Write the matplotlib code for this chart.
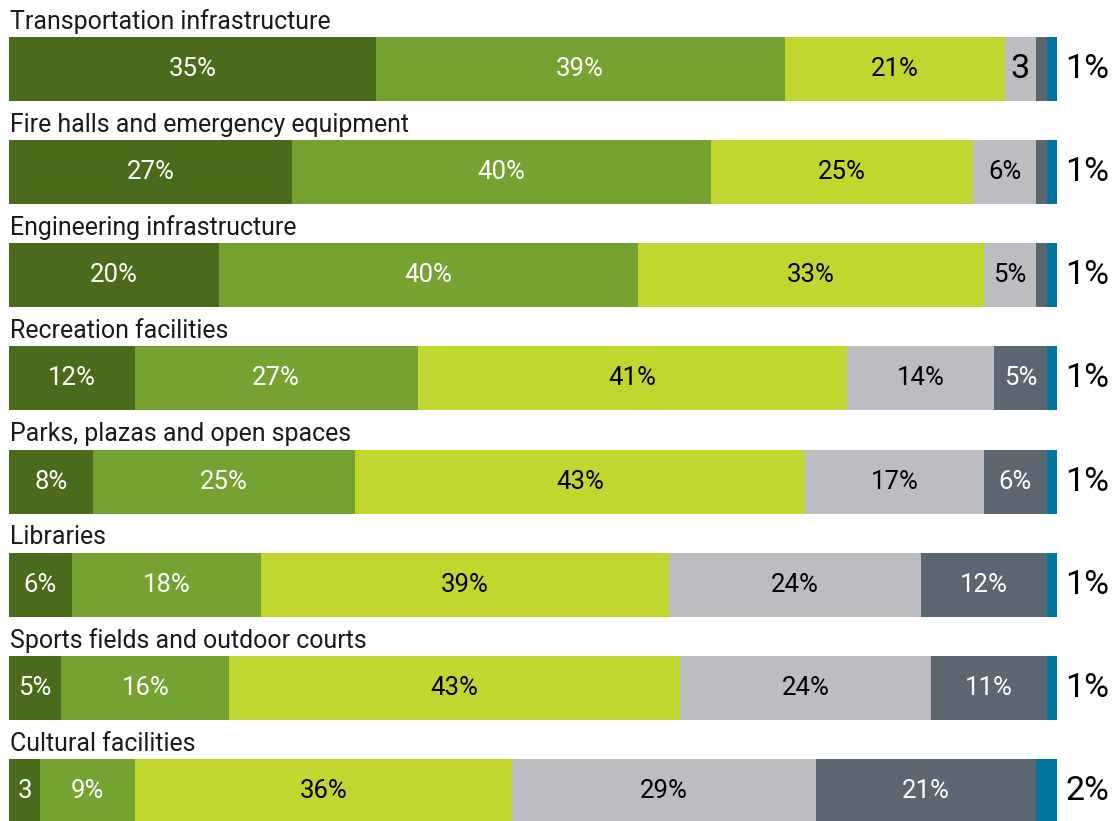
import matplotlib
matplotlib.use("Agg")
import matplotlib.pyplot as plt
import numpy as np

plt.rcParams['font.family'] = ['Roboto', 'DejaVu Sans']

categories = [
    "Transportation infrastructure",
    "Fire halls and emergency equipment",
    "Engineering infrastructure",
    "Recreation facilities",
    "Parks, plazas and open spaces",
    "Libraries",
    "Sports fields and outdoor courts",
    "Cultural facilities",
]
very_good = [35, 27, 20, 12, 8, 6, 5, 3]
good = [39, 40, 40, 27, 25, 18, 16, 9]
fair = [21, 25, 33, 41, 43, 39, 43, 36]
poor = [3, 6, 5, 14, 17, 24, 24, 29]
very_poor = [1, 1, 1, 5, 6, 12, 11, 21]
unknown = [1, 1, 1, 1, 1, 1, 1, 2]

series = [very_good, good, fair, poor, very_poor, unknown]
colors = ["#4a6b1c", "#76a232", "#c1d62e", "#bcbdc0", "#5a6670", "#00759e"]
text_colors = ["white", "white", "black", "black", "white", None]

fig = plt.figure(figsize=(11.17, 8.21), dpi=100)
ax = fig.add_axes([9 / 1117, 0, 1048 / 1117, 1])
ax.set_xlim(0, 100)
ax.set_ylim(7.29, -0.669)
ax.axis("off")

bar_h = 0.62
y = np.arange(len(categories))
left = np.zeros(len(categories))
for si, (vals, col) in enumerate(zip(series, colors)):
    vals = np.array(vals, dtype=float)
    ax.barh(y, vals, left=left, height=bar_h, color=col, edgecolor="none")
    tc = text_colors[si]
    for i, v in enumerate(vals):
        if tc is not None:
            if v >= 4:
                ax.text(left[i] + v / 2, y[i], f"{int(v)}%", ha="center", va="center",
                        color=tc, fontsize=18.5)
            elif v >= 2:
                fs = 24.5 if si == 3 else 18.5
                ax.text(left[i] + v / 2, y[i], f"{int(v)}", ha="center", va="center",
                        color=tc, fontsize=fs)
        else:
            ax.annotate(f"{int(v)}%", xy=(100, y[i]), xytext=(6, 0),
                        textcoords="offset points", ha="left", va="center",
                        color="black", fontsize=24.5)
    left += vals

for i, cat in enumerate(categories):
    ax.annotate(cat, xy=(0, y[i] - bar_h / 2), xytext=(0.5, 6),
                textcoords="offset points", ha="left", va="baseline",
                color="#1a1a1a", fontsize=17.9)

fig.savefig("out.png", dpi=100)
